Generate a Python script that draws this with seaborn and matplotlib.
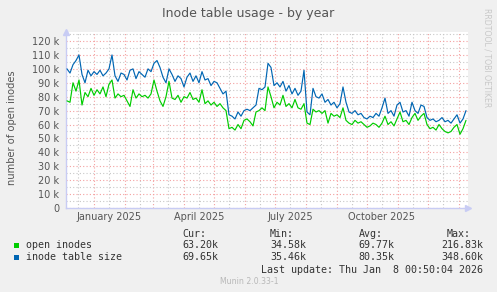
import numpy as np
import pandas as pd
import matplotlib
matplotlib.use("Agg")
import matplotlib.pyplot as plt
import matplotlib.dates as mdates
from matplotlib.patches import Rectangle
import seaborn as sns

# ---------------- data (values in thousands, one point every 3 days) ----------------
start_date = "2024-12-05"
step_days = 3

inode_table_size = [
    100, 97, 103, 106, 110, 96, 90, 99, 95, 98,
    96, 99, 95, 97, 100, 110, 95, 91, 97, 96,
    92, 99, 100, 93, 98, 96, 94, 100, 98, 104,
    106, 101, 94, 90, 100, 96, 91, 95, 93, 87,
    94, 97, 91, 95, 90, 98, 92, 93, 88, 91,
    90, 86, 82, 84, 67, 66, 64, 69, 66, 70,
    71, 70, 72, 74, 86, 85, 87, 104, 101, 88,
    90, 87, 91, 84, 88, 82, 86, 81, 84, 99,
    69, 67, 86, 80, 79, 82, 76, 78, 74, 76,
    72, 75, 87, 76, 69, 68, 70, 67, 68, 65,
    64, 66, 65, 68, 66, 72, 79, 68, 70, 66,
    74, 76, 69, 70, 66, 76, 70, 68, 74, 73,
    65, 63, 64, 62, 63, 65, 62, 63, 61, 64,
    67, 61, 64, 70,
]

open_inodes = [
    77, 76, 90, 84, 92, 74, 83, 80, 86, 81,
    85, 82, 87, 80, 89, 92, 79, 82, 80, 81,
    77, 73, 85, 79, 82, 80, 81, 79, 82, 92,
    84, 77, 73, 80, 91, 79, 78, 81, 76, 80,
    79, 83, 78, 79, 76, 85, 75, 77, 74, 76,
    73, 75, 72, 70, 57, 58, 56, 60, 57, 63,
    64, 62, 59, 69, 70, 72, 70, 87, 80, 72,
    76, 74, 81, 73, 75, 72, 78, 72, 71, 75,
    61, 60, 71, 69, 70, 68, 70, 61, 68, 66,
    67, 65, 72, 63, 61, 60, 63, 61, 62, 60,
    58, 59, 61, 60, 58, 61, 66, 60, 62, 59,
    64, 69, 62, 63, 60, 65, 68, 63, 66, 68,
    60, 57, 58, 56, 60, 57, 55, 54, 55, 58,
    60, 53, 57, 63,
]

series_names = ["open inodes", "inode table size"]
series_colors = ["#00CC00", "#0066B3"]
cur_vals = ["63.20k", "69.65k"]
min_vals = ["34.58k", "35.46k"]
avg_vals = ["69.77k", "80.35k"]
max_vals = ["216.83k", "348.60k"]

x_labels = ["January 2025", "April 2025", "July 2025", "October 2025"]
x_label_dates = ["2025-01-16", "2025-04-16", "2025-07-16", "2025-10-16"]
y_ticks = [0, 10, 20, 30, 40, 50, 60, 70, 80, 90, 100, 110, 120]

title = "Inode table usage - by year"
ylabel = "number of open inodes"
last_update = "Last update: Thu Jan  8 00:50:04 2026"

# ---------------- build frame ----------------
dates = pd.date_range(start_date, periods=len(open_inodes), freq=f"{step_days}D")
df = pd.concat([
    pd.DataFrame({"date": dates, "value": np.array(open_inodes) * 1000.0, "series": series_names[0]}),
    pd.DataFrame({"date": dates, "value": np.array(inode_table_size) * 1000.0, "series": series_names[1]}),
])

# ---------------- figure ----------------
W, H = 497, 292
BG = "#F0F0F0"
sns.set_theme(style="white")
plt.rcParams["font.family"] = ["DejaVu Sans"]

fig = plt.figure(figsize=(W / 100, H / 100), dpi=100, facecolor=BG)
L, R, T, B = 66, 468, 32, 208
ax = fig.add_axes([L / W, 1 - B / H, (R - L) / W, (B - T) / H])
ax.set_facecolor("white")

sns.lineplot(data=df, x="date", y="value", hue="series", hue_order=series_names,
             palette=series_colors, linewidth=0.85, legend=False, ax=ax, zorder=5)

ax.set_xlim(pd.Timestamp("2024-12-04"), pd.Timestamp("2026-01-10"))
ax.set_ylim(0, 126500)

# grid
ax.xaxis.set_major_locator(mdates.MonthLocator(bymonthday=1))
ax.xaxis.set_minor_locator(mdates.MonthLocator(bymonthday=16))
ax.yaxis.set_major_locator(matplotlib.ticker.FixedLocator([v * 1000 for v in y_ticks]))
ax.yaxis.set_minor_locator(matplotlib.ticker.MultipleLocator(5000))
ax.grid(which="major", color="#F4A0A0", linestyle=(0, (1, 2)), linewidth=0.8, zorder=1)
ax.grid(which="minor", color="#C8C8C8", linestyle=(0, (1, 2)), linewidth=0.8, zorder=1)
ax.set_axisbelow(True)

ax.set_xticklabels([])
ax.yaxis.set_major_formatter(matplotlib.ticker.FuncFormatter(
    lambda v, p: "0" if v == 0 else f"{int(round(v / 1000))} k"))
ax.tick_params(axis="y", which="major", labelsize=7, labelcolor="#555555",
               length=2, color="#C8C8C8", pad=3)
ax.tick_params(axis="y", which="minor", length=0)
ax.tick_params(axis="x", which="major", length=2, color="#F4A0A0")
ax.tick_params(axis="x", which="minor", length=2, color="#C8C8C8")
ax.set_xlabel("")
ax.set_ylabel("")

for s in ["top", "right"]:
    ax.spines[s].set_visible(False)
for s in ["left", "bottom"]:
    ax.spines[s].set_color("#C8CCF4")
    ax.spines[s].set_linewidth(1.0)

# axis arrows
ax.plot([0], [1.0], marker="^", markersize=5, color="#C8CCF4", transform=ax.transAxes,
        clip_on=False, zorder=6)
ax.plot([1.0], [0], marker=">", markersize=5, color="#C8CCF4", transform=ax.transAxes,
        clip_on=False, zorder=6)

# x labels centred mid-month
trans = matplotlib.transforms.blended_transform_factory(ax.transData, fig.transFigure)
for lab, d in zip(x_labels, x_label_dates):
    ax.text(mdates.date2num(pd.Timestamp(d)), 1 - 217 / H, lab, transform=trans,
            ha="center", va="center", fontsize=7, color="#555555")

def fx(x):
    return x / W

def fy(y):
    return 1 - y / H

fig.text(fx(248.5), fy(13), title, ha="center", va="center", fontsize=9, color="#555555")
fig.text(fx(12), fy(128), ylabel, ha="center", va="center", rotation=90,
         fontsize=7.1, color="#555555")
fig.text(fx(487), fy(58), "RRDTOOL / TOBI OETIKER", ha="center", va="center",
         rotation=270, fontsize=5.6, color="#C8C8C8")

# legend block
mono = "DejaVu Sans Mono"
fs = 7.2
tc = "#333333"
fig.text(fx(182), fy(234), "Cur:", fontsize=fs, family=mono, color=tc, va="center")
fig.text(fx(270), fy(234), "Min:", fontsize=fs, family=mono, color=tc, va="center")
fig.text(fx(359), fy(234), "Avg:", fontsize=fs, family=mono, color=tc, va="center")
fig.text(fx(471), fy(234), "Max:", fontsize=fs, family=mono, color=tc, va="center", ha="right")
rows_y = [245, 257]
for i, name in enumerate(series_names):
    yy = rows_y[i]
    fig.patches.append(Rectangle((fx(14), fy(yy + 2.5)), 5 / W, 5 / H,
                                 transform=fig.transFigure, facecolor=series_colors[i],
                                 edgecolor="none"))
    fig.text(fx(26.5), fy(yy), name, fontsize=fs, family=mono, color=tc, va="center")
    fig.text(fx(182), fy(yy), cur_vals[i], fontsize=fs, family=mono, color=tc, va="center")
    fig.text(fx(270), fy(yy), min_vals[i], fontsize=fs, family=mono, color=tc, va="center")
    fig.text(fx(358), fy(yy), avg_vals[i], fontsize=fs, family=mono, color=tc, va="center")
    fig.text(fx(483), fy(yy), max_vals[i], fontsize=fs, family=mono, color=tc, va="center",
             ha="right")
fig.text(fx(483), fy(270), last_update, fontsize=fs, family=mono, color=tc, va="center",
         ha="right")
fig.text(fx(249), fy(282), "Munin 2.0.33-1", fontsize=5.6, color="#B8B8B8",
         ha="center", va="center")

fig.savefig("out.png", dpi=100, facecolor=BG)
